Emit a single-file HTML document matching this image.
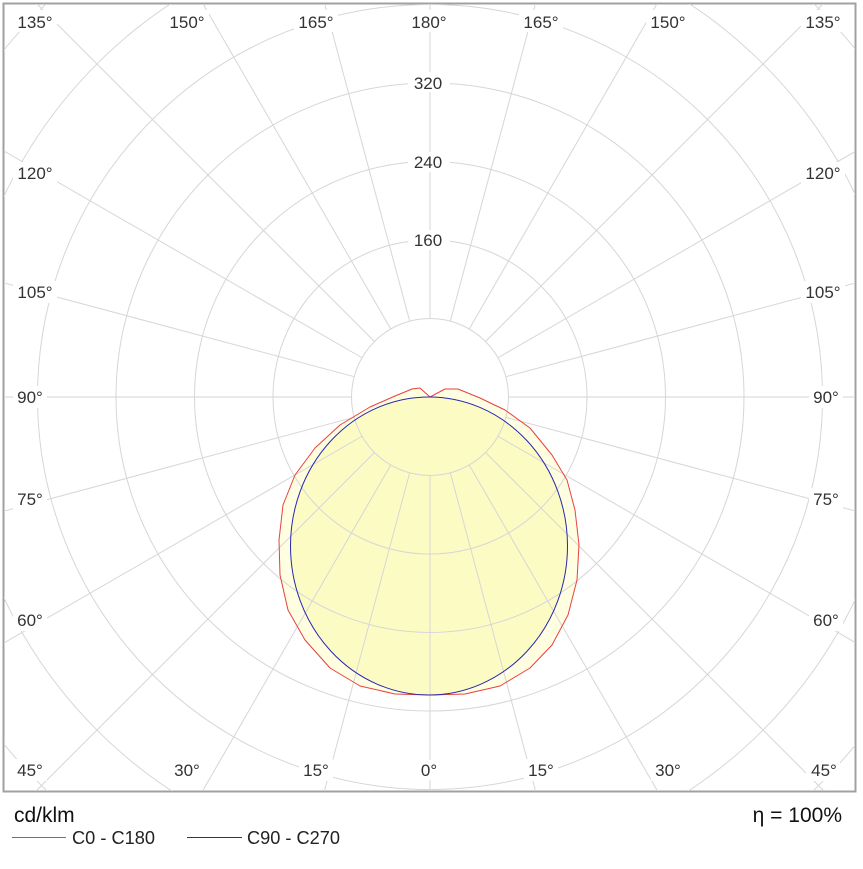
<!DOCTYPE html>
<html><head><style>
html,body{margin:0;background:#fff;width:863px;height:869px;overflow:hidden;font-family:"Liberation Sans",sans-serif}
svg{display:block}
</style></head><body>
<svg width="863" height="869" xmlns="http://www.w3.org/2000/svg" style="position:absolute;left:0;top:0">
<defs><clipPath id="c"><rect x="4" y="4" width="851" height="787"/></clipPath></defs>
<rect x="3.5" y="3.5" width="852" height="788" fill="#fff" stroke="#a0a0a0" stroke-width="2"/>
<g clip-path="url(#c)">
<path d="M430,397 L445,389 L458,389 L480,398 L505,410 L530,428 L552,455 L567,480 L575,510 L579,545 L577,580 L568,615 L552,645 L530,668 L500,686 L465,694 L430,695 L395,694 L360,686 L330,668 L305,640 L288,610 L280,575 L279,540 L283,505 L295,475 L315,448 L340,425 L370,407 L395,396 L412,389 L420,388 Z" fill="#fffee0" stroke="none"/>
<ellipse cx="429" cy="546" rx="138.5" ry="149" fill="#fdfbc4"/>
<g fill="none" stroke="#d6d6d6" stroke-width="1">
<circle cx="430" cy="397" r="78.5"/><circle cx="430" cy="397" r="157"/><circle cx="430" cy="397" r="235.5"/><circle cx="430" cy="397" r="314"/><circle cx="430" cy="397" r="392.5"/><circle cx="430" cy="397" r="471"/><circle cx="430" cy="397" r="549.5"/><circle cx="430" cy="397" r="628"/>
<g id="rl">
<line x1="430" y1="475.5" x2="430" y2="1200" transform="rotate(0 430 397)"/>
<line x1="430" y1="475.5" x2="430" y2="1200" transform="rotate(15 430 397)"/>
<line x1="430" y1="475.5" x2="430" y2="1200" transform="rotate(30 430 397)"/>
<line x1="430" y1="475.5" x2="430" y2="1200" transform="rotate(45 430 397)"/>
<line x1="430" y1="475.5" x2="430" y2="1200" transform="rotate(60 430 397)"/>
<line x1="430" y1="475.5" x2="430" y2="1200" transform="rotate(75 430 397)"/>
<line x1="430" y1="475.5" x2="430" y2="1200" transform="rotate(90 430 397)"/>
<line x1="430" y1="475.5" x2="430" y2="1200" transform="rotate(105 430 397)"/>
<line x1="430" y1="475.5" x2="430" y2="1200" transform="rotate(120 430 397)"/>
<line x1="430" y1="475.5" x2="430" y2="1200" transform="rotate(135 430 397)"/>
<line x1="430" y1="475.5" x2="430" y2="1200" transform="rotate(150 430 397)"/>
<line x1="430" y1="475.5" x2="430" y2="1200" transform="rotate(165 430 397)"/>
</g>
<use href="#rl" transform="rotate(180 430 397)"/>
</g>
<path d="M430,397 L445,389 L458,389 L480,398 L505,410 L530,428 L552,455 L567,480 L575,510 L579,545 L577,580 L568,615 L552,645 L530,668 L500,686 L465,694 L430,695 L395,694 L360,686 L330,668 L305,640 L288,610 L280,575 L279,540 L283,505 L295,475 L315,448 L340,425 L370,407 L395,396 L412,389 L420,388 Z" fill="none" stroke="#e84040" stroke-width="1" stroke-linejoin="round"/>
<ellipse cx="429" cy="546" rx="138.5" ry="149" fill="none" stroke="#2828b0" stroke-width="1"/>
</g>
<g font-size="17" fill="#333" text-anchor="middle">
<rect x="409" y="10" width="40" height="22" fill="#fff"/><text x="429" y="28">180°</text>
<rect x="408" y="72" width="42" height="20" fill="#fff"/><text x="428" y="89">320</text>
<rect x="408" y="152" width="42" height="20" fill="#fff"/><text x="428" y="168">240</text>
<rect x="408" y="230" width="42" height="20" fill="#fff"/><text x="428" y="246">160</text>
<rect x="418" y="760" width="22" height="20" fill="#fff"/><text x="429" y="776">0°</text>
<rect x="13" y="10" width="44" height="22" fill="#fff"/><text x="35" y="28">135°</text>
<rect x="165" y="10" width="44" height="22" fill="#fff"/><text x="187" y="28">150°</text>
<rect x="294" y="10" width="44" height="22" fill="#fff"/><text x="316" y="28">165°</text>
<rect x="519" y="10" width="44" height="22" fill="#fff"/><text x="541" y="28">165°</text>
<rect x="646" y="10" width="44" height="22" fill="#fff"/><text x="668" y="28">150°</text>
<rect x="801" y="10" width="44" height="22" fill="#fff"/><text x="823" y="28">135°</text>
<rect x="13" y="162" width="44" height="22" fill="#fff"/><text x="35" y="179">120°</text>
<rect x="13" y="281" width="44" height="22" fill="#fff"/><text x="35" y="298">105°</text>
<rect x="13" y="386" width="34" height="22" fill="#fff"/><text x="30" y="403">90°</text>
<rect x="13" y="488" width="34" height="22" fill="#fff"/><text x="30" y="505">75°</text>
<rect x="13" y="609" width="34" height="22" fill="#fff"/><text x="30" y="626">60°</text>
<rect x="13" y="759" width="34" height="22" fill="#fff"/><text x="30" y="776">45°</text>
<rect x="170" y="759" width="34" height="22" fill="#fff"/><text x="187" y="776">30°</text>
<rect x="299" y="759" width="34" height="22" fill="#fff"/><text x="316" y="776">15°</text>
<rect x="524" y="759" width="34" height="22" fill="#fff"/><text x="541" y="776">15°</text>
<rect x="651" y="759" width="34" height="22" fill="#fff"/><text x="668" y="776">30°</text>
<rect x="806" y="759" width="34" height="22" fill="#fff"/><text x="824" y="776">45°</text>
<rect x="801" y="162" width="44" height="22" fill="#fff"/><text x="823" y="179">120°</text>
<rect x="801" y="281" width="44" height="22" fill="#fff"/><text x="823" y="298">105°</text>
<rect x="809" y="386" width="34" height="22" fill="#fff"/><text x="826" y="403">90°</text>
<rect x="809" y="488" width="34" height="22" fill="#fff"/><text x="826" y="505">75°</text>
<rect x="809" y="609" width="34" height="22" fill="#fff"/><text x="826" y="626">60°</text>
</g>
<text x="14" y="822" font-size="21" fill="#111">cd/klm</text>
<text x="842" y="822" font-size="21" fill="#111" text-anchor="end">η = 100%</text>
<line x1="12" y1="837.5" x2="66" y2="837.5" stroke="#e04040" stroke-width="1"/>
<text x="72" y="844" font-size="18" fill="#222" textLength="83" lengthAdjust="spacingAndGlyphs">C0 - C180</text>
<line x1="187" y1="837.5" x2="242" y2="837.5" stroke="#2828a0" stroke-width="1"/>
<text x="247" y="844" font-size="18" fill="#222" textLength="93" lengthAdjust="spacingAndGlyphs">C90 - C270</text>
</svg>
</body></html>
